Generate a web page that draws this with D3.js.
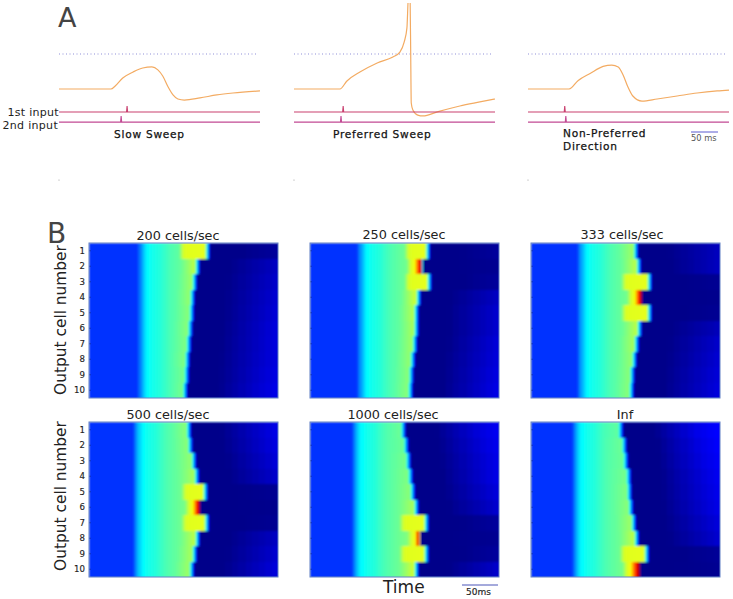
<!DOCTYPE html>
<html>
<head>
<meta charset="utf-8">
<script src="https://cdn.jsdelivr.net/npm/d3@7"></script>
<style>
  html, body { margin: 0; padding: 0; background: #fff; }
  text { font-family: "DejaVu Sans", sans-serif; }
</style>
</head>
<body>
<svg id="chart" width="733" height="599"></svg>
<script>
// Panel A: membrane traces, time in ms and voltage in mV
const slowTime = [0, 96, 104, 118, 137, 155, 172, 183, 192, 202, 211, 220, 232, 261, 292, 322, 372];
const slowVolt = [-70, -70, -68.3, -63.7, -60.3, -58, -57.4, -59.1, -62.6, -68.9, -73.4, -75.7, -76.3, -75.1, -73.4, -72.3, -71.1];
const prefTime = [0, 85, 98, 122, 154, 183, 196, 204, 209, 211, 213, 215, 216, 217, 220, 229, 239, 265, 307, 344, 372];
const prefVolt = [-70, -70, -65.4, -60.3, -55.1, -51.7, -48.9, -43.1, -35.1, -20.9, -10, -20.9, -50, -78, -82, -84.9, -85.4, -83.1, -79.7, -77.4, -75.7];
const nonTime = [0, 76, 93, 115, 139, 155, 167, 176, 185, 194, 211, 239, 276, 313, 350, 372];
const nonVolt = [-70, -70, -65.1, -61.1, -57.1, -56.3, -57.4, -62, -68.9, -74, -76.9, -75.7, -74, -72.3, -71.1, -70.6];

const sweepNames = ["Slow Sweep", "Preferred Sweep", "Non-Preferred Direction"];
const firstInputTimes = [126, 91, 68];
const secondInputTimes = [115, 87, 70];
const thresholdVolt = -50;
const firstInputVolt = -83.1;
const secondInputVolt = -88.9;
const inputSpikeHeight = 3.4;

// Panel B: heat maps, one entry per speed and ten rows per entry
const speedTitles = ["200 cells/sec", "250 cells/sec", "333 cells/sec", "500 cells/sec", "1000 cells/sec", "Inf"];
const cellNumbers = [1, 2, 3, 4, 5, 6, 7, 8, 9, 10];
const riseOnsets = [67, 65, 64, 61, 58, 57];
const riseOffsets = [0, 3, 7, 12, 18, 30, 45, 70, 90, 110];
const riseValues = [0.175, 0.24, 0.31, 0.37, 0.39, 0.41, 0.45, 0.49, 0.53, 0.55];
const restValue = 0.175;
const troughValue = 0.01;
const boostValue = 0.585;

const edgeTimes = [
  [165, 151, 147, 144, 143, 141, 139, 137, 136, 134],
  [164, 155, 166, 151, 148, 148, 146, 143, 141, 140],
  [146, 150, 165, 153, 165, 151, 147, 144, 141, 140],
  [139, 141, 146, 150, 162, 153, 164, 151, 147, 143],
  [130, 134, 137, 140, 143, 148, 162, 151, 162, 148],
  [125, 130, 132, 136, 137, 139, 143, 147, 161, 150]
];
const edgeValues = [
  [0.6, 0.56, 0.53, 0.52, 0.51, 0.51, 0.5, 0.5, 0.49, 0.49],
  [0.6, 1, 0.6, 0.58, 0.55, 0.54, 0.53, 0.52, 0.51, 0.51],
  [0.53, 0.56, 0.6, 1, 0.6, 0.56, 0.54, 0.52, 0.51, 0.51],
  [0.51, 0.51, 0.52, 0.54, 0.6, 1, 0.6, 0.56, 0.54, 0.53],
  [0.48, 0.48, 0.49, 0.5, 0.51, 0.54, 0.6, 1, 0.6, 0.58],
  [0.47, 0.48, 0.48, 0.49, 0.5, 0.51, 0.53, 0.56, 0.6, 1]
];
const boostStarts = [
  [130, null, null, null, null, null, null, null, null, null],
  [136, 139, 136, null, null, null, null, null, null, null],
  [null, null, 130, 138, 130, null, null, null, null, null],
  [null, null, null, null, 133, 138, 133, null, null, null],
  [null, null, null, null, null, null, 129, 140, 129, null],
  [null, null, null, null, null, null, null, null, 128, 132]
];
const tailValues = [
  [0.03, 0.08, 0.085, 0.09, 0.095, 0.1, 0.1, 0.1, 0.105, 0.11],
  [0.03, 0.02, 0.03, 0.08, 0.09, 0.09, 0.1, 0.1, 0.105, 0.11],
  [0.07, 0.075, 0.02, 0.015, 0.02, 0.07, 0.085, 0.09, 0.095, 0.1],
  [0.11, 0.105, 0.1, 0.09, 0.02, 0.015, 0.02, 0.08, 0.09, 0.1],
  [0.12, 0.115, 0.11, 0.11, 0.1, 0.09, 0.03, 0.02, 0.03, 0.085],
  [0.135, 0.13, 0.125, 0.12, 0.115, 0.11, 0.1, 0.09, 0.03, 0.02]
];

const svg = d3.select("#chart");
const TEXT_DARK = "#222";
const ORANGE = "#f3ab62";

svg.append("text").attr("x", 58).attr("y", 27).attr("font-size", 27).attr("fill", "#444").text("A");
svg.append("text").attr("x", 47).attr("y", 243).attr("font-size", 28).attr("fill", "#444").text("B");

// ---- Panel A ----
const sweepLefts = [59, 294, 528];
const sweepTraces = [[slowTime, slowVolt], [prefTime, prefVolt], [nonTime, nonVolt]];
const SWEEP_WIDTH = 201;
const SWEEP_END = 372;

const voltY = d3.scaleLinear().domain([-70, -50]).range([89, 54]);
const traceLine = d3.line().curve(d3.curveMonotoneX);
const inputLine = d3.line();

svg.append("clipPath").attr("id", "sweep-clip")
  .append("rect").attr("x", 0).attr("y", 3).attr("width", 733).attr("height", 200);

sweepNames.forEach((name, i) => {
  const timeX = d3.scaleLinear().domain([0, SWEEP_END]).range([sweepLefts[i], sweepLefts[i] + SWEEP_WIDTH]);

  svg.append("line")
    .attr("x1", timeX(0)).attr("x2", timeX(SWEEP_END) - 2)
    .attr("y1", voltY(thresholdVolt)).attr("y2", voltY(thresholdVolt))
    .attr("stroke", "#8f8fd8").attr("stroke-width", 1).attr("stroke-dasharray", "1,2.5");

  const [times, volts] = sweepTraces[i];
  svg.append("path")
    .attr("clip-path", "url(#sweep-clip)")
    .attr("d", traceLine(times.map((t, j) => [timeX(t), voltY(volts[j])])))
    .attr("fill", "none").attr("stroke", ORANGE).attr("stroke-width", 1.2);

  [[firstInputVolt, firstInputTimes[i], "#c9406f"], [secondInputVolt, secondInputTimes[i], "#c24a94"]].forEach(([level, t, color]) => {
    const pts = [[0, level], [t - 1, level], [t, level + inputSpikeHeight], [t + 1, level], [SWEEP_END, level]];
    svg.append("path")
      .attr("d", inputLine(pts.map(p => [timeX(p[0]), voltY(p[1])])))
      .attr("fill", "none").attr("stroke", color).attr("stroke-width", 1.1);
  });

  svg.append("circle").attr("cx", timeX(0)).attr("cy", 180).attr("r", 0.6).attr("fill", "#999");
});

const inputLabelStyle = sel => sel.attr("text-anchor", "end").attr("font-size", 11).attr("letter-spacing", 0.3).attr("fill", TEXT_DARK);
svg.append("text").attr("x", 59).attr("y", 116).call(inputLabelStyle).text("1st input");
svg.append("text").attr("x", 58).attr("y", 129).call(inputLabelStyle).text("2nd input");

const captionStyle = sel => sel.attr("font-size", 10.6).attr("letter-spacing", 0.75).attr("fill", "#111")
  .attr("stroke", "#111").attr("stroke-width", 0.25);
svg.append("text").attr("x", 114).attr("y", 138).call(captionStyle).text(sweepNames[0]);
svg.append("text").attr("x", 333).attr("y", 138).call(captionStyle).text(sweepNames[1]);
svg.append("text").attr("x", 563).attr("y", 137).call(captionStyle).text("Non-Preferred");
svg.append("text").attr("x", 563).attr("y", 150).call(captionStyle).text("Direction");

svg.append("line").attr("x1", 691).attr("x2", 718).attr("y1", 132).attr("y2", 132).attr("stroke", "#5a5ad0").attr("stroke-width", 1);
svg.append("text").attr("x", 691).attr("y", 141).attr("font-size", 8.3).attr("fill", "#555").text("50 ms");

// ---- Panel B ----
const heatLefts = [89, 310, 531, 89, 310, 531];
const heatTops = [243, 243, 243, 422, 422, 422];
const titleCentres = [178, 404, 622, 168, 393, 625];
const titleBaselines = [240, 239, 239, 419, 419, 419];
const HEAT_WIDTH = 189;
const HEAT_HEIGHT = 155;
const HEAT_END = 262;
const CELL_MS = 1.4;
const TAIL_BIN_MS = 9;

const jet = v => {
  const clamp = c => Math.max(0, Math.min(1, c));
  const r = clamp(1.5 - Math.abs(4 * v - 3));
  const g = clamp(1.5 - Math.abs(4 * v - 2));
  const b = clamp(1.5 - Math.abs(4 * v - 1));
  return d3.rgb(r * 255, g * 255, b * 255).formatHex();
};
const colour = d3.scaleSequential(jet).domain([0, 1]);

// Builds the value profile of one row from the numbers
function rowProfile(p, r) {
  const edge = edgeTimes[p][r];
  const peak = edgeValues[p][r];
  const boost = boostStarts[p][r];
  const tail = tailValues[p][r];
  const spike = peak >= 0.9;
  const riseTimes = riseOffsets.map(o => o + riseOnsets[p]);
  const rise = d3.scaleLinear().domain(riseTimes).range(riseValues).clamp(true);
  const cutoff = boost === null ? edge - 25 : boost - 6;

  const knots = [[0, restValue]];
  riseTimes.forEach((t, j) => { if (t < cutoff) knots.push([t, riseValues[j]]); });
  knots.push([cutoff, rise(cutoff)]);
  if (boost !== null) {
    knots.push([boost, boostValue]);
    knots.push([boost + 5, spike ? 0.61 : 0.595]);
  }
  // the fall straddles the edge, except on the spiking row where it is abrupt
  knots.push([spike ? edge : edge - 5, peak]);
  knots.push([spike ? edge + 0.6 : edge + 3, troughValue]);
  knots.push([edge + 40, troughValue]);
  if (edge + 100 < HEAT_END) knots.push([edge + 100, troughValue + (tail - troughValue) * 0.75]);
  knots.push([HEAT_END, tail]);

  const profile = d3.scaleLinear().domain(knots.map(k => k[0])).range(knots.map(k => k[1]));
  // the recovery part of the image is visibly binned in time
  return t => profile(t > edge + 30 ? Math.floor(t / TAIL_BIN_MS) * TAIL_BIN_MS : t);
}

const defs = svg.append("defs");
defs.append("filter").attr("id", "soften")
  .attr("x", "-5%").attr("y", "-5%").attr("width", "110%").attr("height", "110%")
  .append("feGaussianBlur").attr("stdDeviation", 0.8);

const cellTimes = d3.range(0, HEAT_END, CELL_MS);

speedTitles.forEach((title, p) => {
  const x = d3.scaleLinear().domain([0, HEAT_END]).range([0, HEAT_WIDTH]);
  const y = d3.scaleBand().domain(cellNumbers).range([0, HEAT_HEIGHT]);

  const panel = svg.append("g").attr("transform", `translate(${heatLefts[p]},${heatTops[p]})`);

  defs.append("clipPath").attr("id", `heat-clip-${p}`)
    .append("rect").attr("width", HEAT_WIDTH).attr("height", HEAT_HEIGHT);

  const heat = panel.append("g").attr("clip-path", `url(#heat-clip-${p})`)
    .append("g").attr("filter", "url(#soften)");

  cellNumbers.forEach((cell, r) => {
    const profile = rowProfile(p, r);
    heat.selectAll(null)
      .data(cellTimes)
      .enter()
      .append("rect")
      .attr("x", t => x(t))
      .attr("y", y(cell))
      .attr("width", x(CELL_MS) + 1)
      .attr("height", y.bandwidth() + 1)
      .attr("shape-rendering", "crispEdges")
      .attr("fill", t => colour(profile(t)));
  });

  const axis = panel.append("g")
    .call(d3.axisLeft(y).tickSize(-2).tickPadding(4).tickFormat(p % 3 === 0 ? d => d : () => ""));
  axis.select(".domain").remove();
  axis.selectAll("line").attr("stroke", "#0a2aa0").attr("stroke-width", 0.7);
  axis.selectAll("text").attr("font-size", 8.6).attr("fill", TEXT_DARK)
    .attr("font-family", "DejaVu Sans").attr("stroke", TEXT_DARK).attr("stroke-width", 0.15);

  panel.append("rect").attr("width", HEAT_WIDTH).attr("height", HEAT_HEIGHT)
    .attr("fill", "none").attr("stroke", "#5f7fc4").attr("stroke-width", 1);

  svg.append("text")
    .attr("x", titleCentres[p]).attr("y", titleBaselines[p])
    .attr("text-anchor", "middle").attr("font-size", 12.8).attr("fill", TEXT_DARK)
    .text(title);
});

[[320, 66], [496, 66]].forEach(([cy, bx]) => {
  svg.append("text")
    .attr("transform", `translate(${bx},${cy}) rotate(-90)`)
    .attr("text-anchor", "middle").attr("font-size", 15.4).attr("fill", TEXT_DARK)
    .text("Output cell number");
});

svg.append("text").attr("x", 383).attr("y", 593).attr("font-size", 17).attr("fill", TEXT_DARK).text("Time");
svg.append("line").attr("x1", 462).attr("x2", 498).attr("y1", 585).attr("y2", 585).attr("stroke", "#4a55b8").attr("stroke-width", 1);
svg.append("text").attr("x", 466).attr("y", 595).attr("font-size", 9).attr("fill", TEXT_DARK).attr("stroke", TEXT_DARK).attr("stroke-width", 0.15).text("50ms");
</script>
</body>
</html>
